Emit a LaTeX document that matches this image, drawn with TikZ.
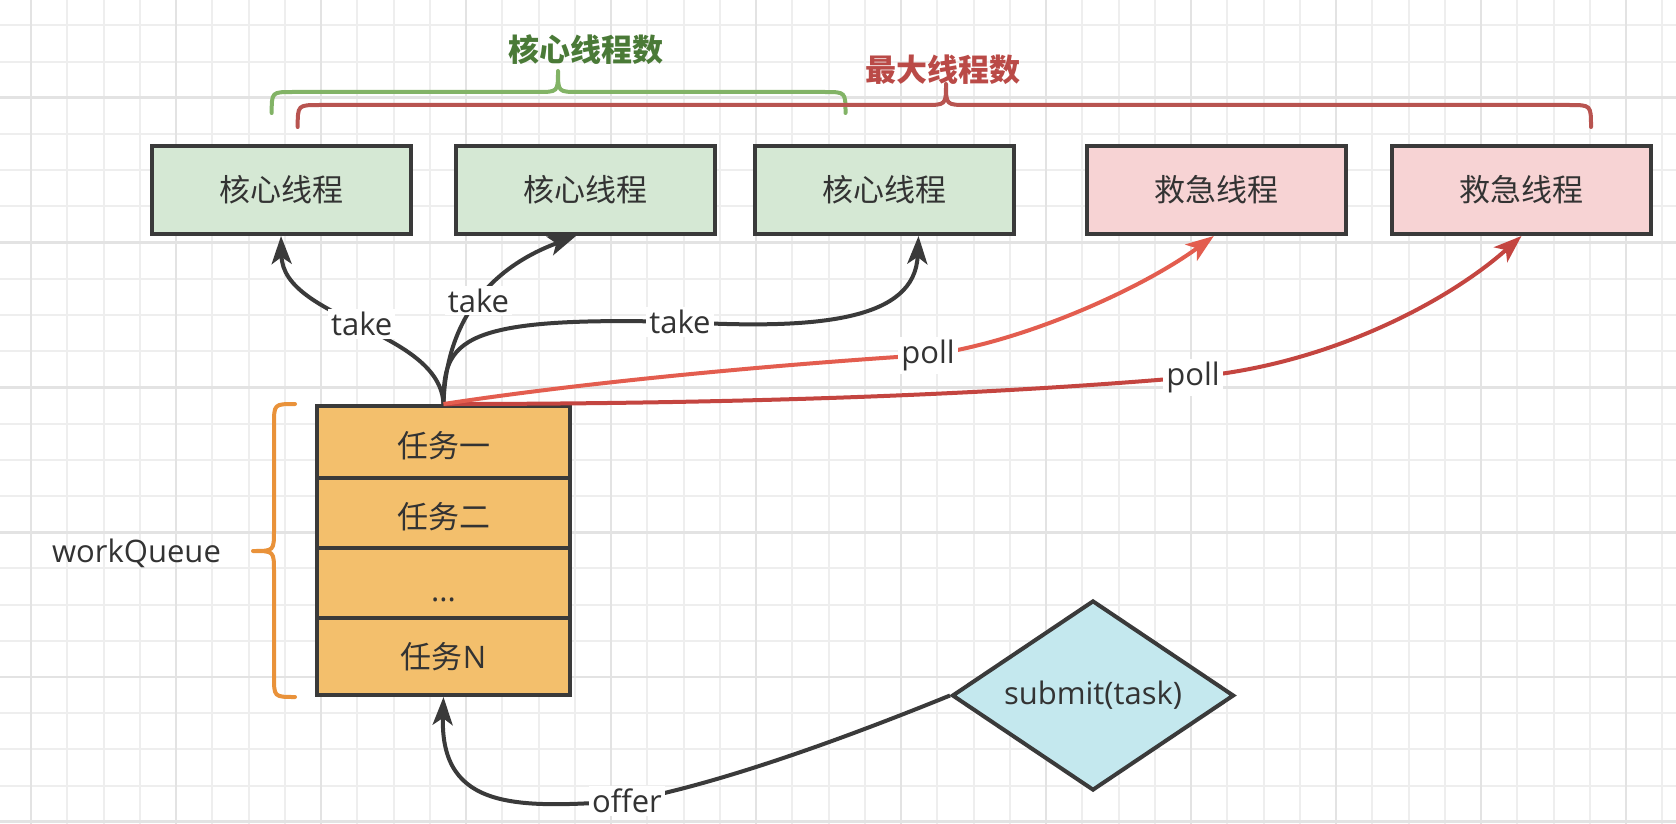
\documentclass[tikz,border=0pt]{standalone}
\usepackage{fontspec}
\setmainfont{Open Sans}
\newfontfamily\cjk{Noto Sans CJK SC}
\usetikzlibrary{arrows.meta,shapes.geometric}

\definecolor{ink}{HTML}{3A3A3A}
\definecolor{txt}{HTML}{333333}
\definecolor{gridminor}{HTML}{EEEEEE}
\definecolor{gridmajor}{HTML}{E3E3E3}
\definecolor{corefill}{HTML}{D5E8D4}
\definecolor{sparefill}{HTML}{F7D3D4}
\definecolor{queuefill}{HTML}{F3BF6C}
\definecolor{submitfill}{HTML}{C4E8EE}
\definecolor{coreline}{HTML}{82B366}
\definecolor{coretitle}{HTML}{4A7A37}
\definecolor{maxline}{HTML}{B85450}
\definecolor{maxtitle}{HTML}{BA4A47}
\definecolor{queuebrace}{HTML}{E9923A}
\definecolor{pollA}{HTML}{E35D4F}
\definecolor{pollB}{HTML}{C44540}

\tikzset{
  basefont/.style={font=\fontsize{15.5}{18}\selectfont},
  thread/.style={draw=ink, line width=2pt, rectangle, minimum width=129.5pt,
    minimum height=44pt, inner sep=0pt, text=txt, font=\cjk\fontsize{15.5}{18}\selectfont},
  core/.style={thread, fill=corefill},
  spare/.style={thread, fill=sparefill},
  slot/.style={draw=ink, line width=2pt, fill=queuefill, minimum width=126.5pt,
    inner sep=0pt, text=txt, basefont},
  lowtext/.style={text height=16pt, text depth=0.7pt},
  flow/.style={line width=2pt, draw=ink, -{Stealth[length=14pt,width=10pt,inset=3.5pt]}},
  pollflow/.style={line width=2pt, -{Stealth[length=14pt,width=10pt,inset=3.5pt]}},
  lbl/.style={fill=white, inner sep=1.5pt, text=txt, basefont},
  brace/.style={line width=2pt, line cap=round, line join=round},
  title/.style={font=\cjk\bfseries\fontsize{15.5}{18}\selectfont},
  gminor/.style={draw=gridminor, line width=1pt},
  gmajor/.style={draw=gridmajor, line width=1.4pt},
}

\begin{document}
\begin{tikzpicture}[x=0.5pt, y=-0.5pt]
  % canvas and grid paper
  \useasboundingbox (0,0) rectangle (1676,824);
  \fill[white] (0,0) rectangle (1676,824);
  \foreach \i in {0,...,45} \draw[gminor] (31+36.25*\i,0) -- (31+36.25*\i,824);
  \foreach \j in {0,...,22} \draw[gminor] (0,25.4+36.2*\j) -- (1676,25.4+36.2*\j);
  \foreach \i in {0,4,...,44} \draw[gmajor] (31+36.25*\i,0) -- (31+36.25*\i,824);
  \foreach \j in {2,6,...,22} \draw[gmajor] (0,25.4+36.2*\j) -- (1676,25.4+36.2*\j);

  % braces over the thread boxes
  \draw[brace, draw=coreline] (271.7,113) .. controls (271.7,92) .. (292.7,92) -- (537,92)
    .. controls (558,92) .. (558,71) .. controls (558,92) .. (579,92) -- (824.5,92)
    .. controls (845.5,92) .. (845.5,113);
  \draw[brace, draw=maxline] (297.7,127) .. controls (297.7,105) .. (319.7,105) -- (924,105)
    .. controls (946,105) .. (946,84) .. controls (946,105) .. (968,105) -- (1569,105)
    .. controls (1591,105) .. (1591,127);
  \node[title, text=coretitle] (coreT) at (586,50) {核心线程数};
  \node[title, text=maxtitle] (maxT) at (943,70) {最大线程数};

  % thread boxes
  \node[core] (c1) at (281,190) {核心线程};
  \node[core] (c2) at (585.5,190) {核心线程};
  \node[core] (c3) at (884.5,190) {核心线程};
  \node[spare] (r1) at (1216.8,190) {救急线程};
  \node[spare] (r2) at (1521.5,190) {救急线程};

  % work queue
  \node[slot, lowtext, minimum height=36pt] (q1) at (443.5,442) {\cjk 任务一};
  \node[slot, lowtext, minimum height=35pt] (q2) at (443.5,513) {\cjk 任务二};
  \node[slot, text height=18pt, text depth=0pt, minimum height=35pt] (q3) at (443.5,583) {...};
  \node[slot, minimum height=38.5pt] (q4) at (443.5,656.5) {{\cjk 任务}N};
  \draw[brace, draw=queuebrace] (295,404) .. controls (274,404) .. (274,425) -- (274,530)
    .. controls (274,551) .. (253,551) .. controls (274,551) .. (274,572) -- (274,676)
    .. controls (274,697) .. (295,697);
  \node[basefont, text=txt] (wq) at (136.5,553) {workQueue};

  % submit decision
  \node[diamond, shape aspect=1.48, draw=ink, line width=2pt, fill=submitfill,
    minimum width=141pt, minimum height=95pt, inner sep=0pt, text=txt, basefont]
    (submit) at (1093,695.5) {submit(task)};

  % take connectors
  \draw[flow] (q1.north) .. controls (440,330) and (283,320) .. (c1.south)
    node[lbl, pos=0.5] (tk1) {take};
  \draw[flow] (q1.north) .. controls (446,320) and (490,268) .. ([xshift=-4.75pt]c2.south)
    node[lbl, pos=0.5] (tk2) {take};
  \coordinate (tk3c) at (680,322);
  \draw[flow] (q1.north) .. controls (443,340) and (460,316) .. (tk3c)
    .. controls (820,330) and (915,320) .. ([xshift=17pt]c3.south);
  \node[lbl] (tk3) at (tk3c) {take};

  % poll connectors
  \coordinate (pl2c) at (1193,377);
  \draw[pollflow, draw=pollB] (q1.north) .. controls (750,404) and (1000,394) .. (pl2c)
    .. controls (1330,365) and (1450,300) .. (r2.south);
  \coordinate (pl1c) at (928,355);
  \draw[pollflow, draw=pollA] (q1.north) .. controls (600,380) and (800,363) .. (pl1c)
    .. controls (1020,343) and (1140,290) .. ([xshift=-1.5pt]r1.south);
  \node[lbl] (pl1) at (pl1c) {poll};
  \node[lbl] (pl2) at (pl2c) {poll};

  % offer connector
  \coordinate (ofc) at (627,801);
  \draw[flow] (submit.west) .. controls (870,728) and (730,782) .. (ofc)
    .. controls (520,808) and (440,812) .. (q4.south);
  \node[lbl] (of) at (ofc) {offer};
\end{tikzpicture}
\end{document}
